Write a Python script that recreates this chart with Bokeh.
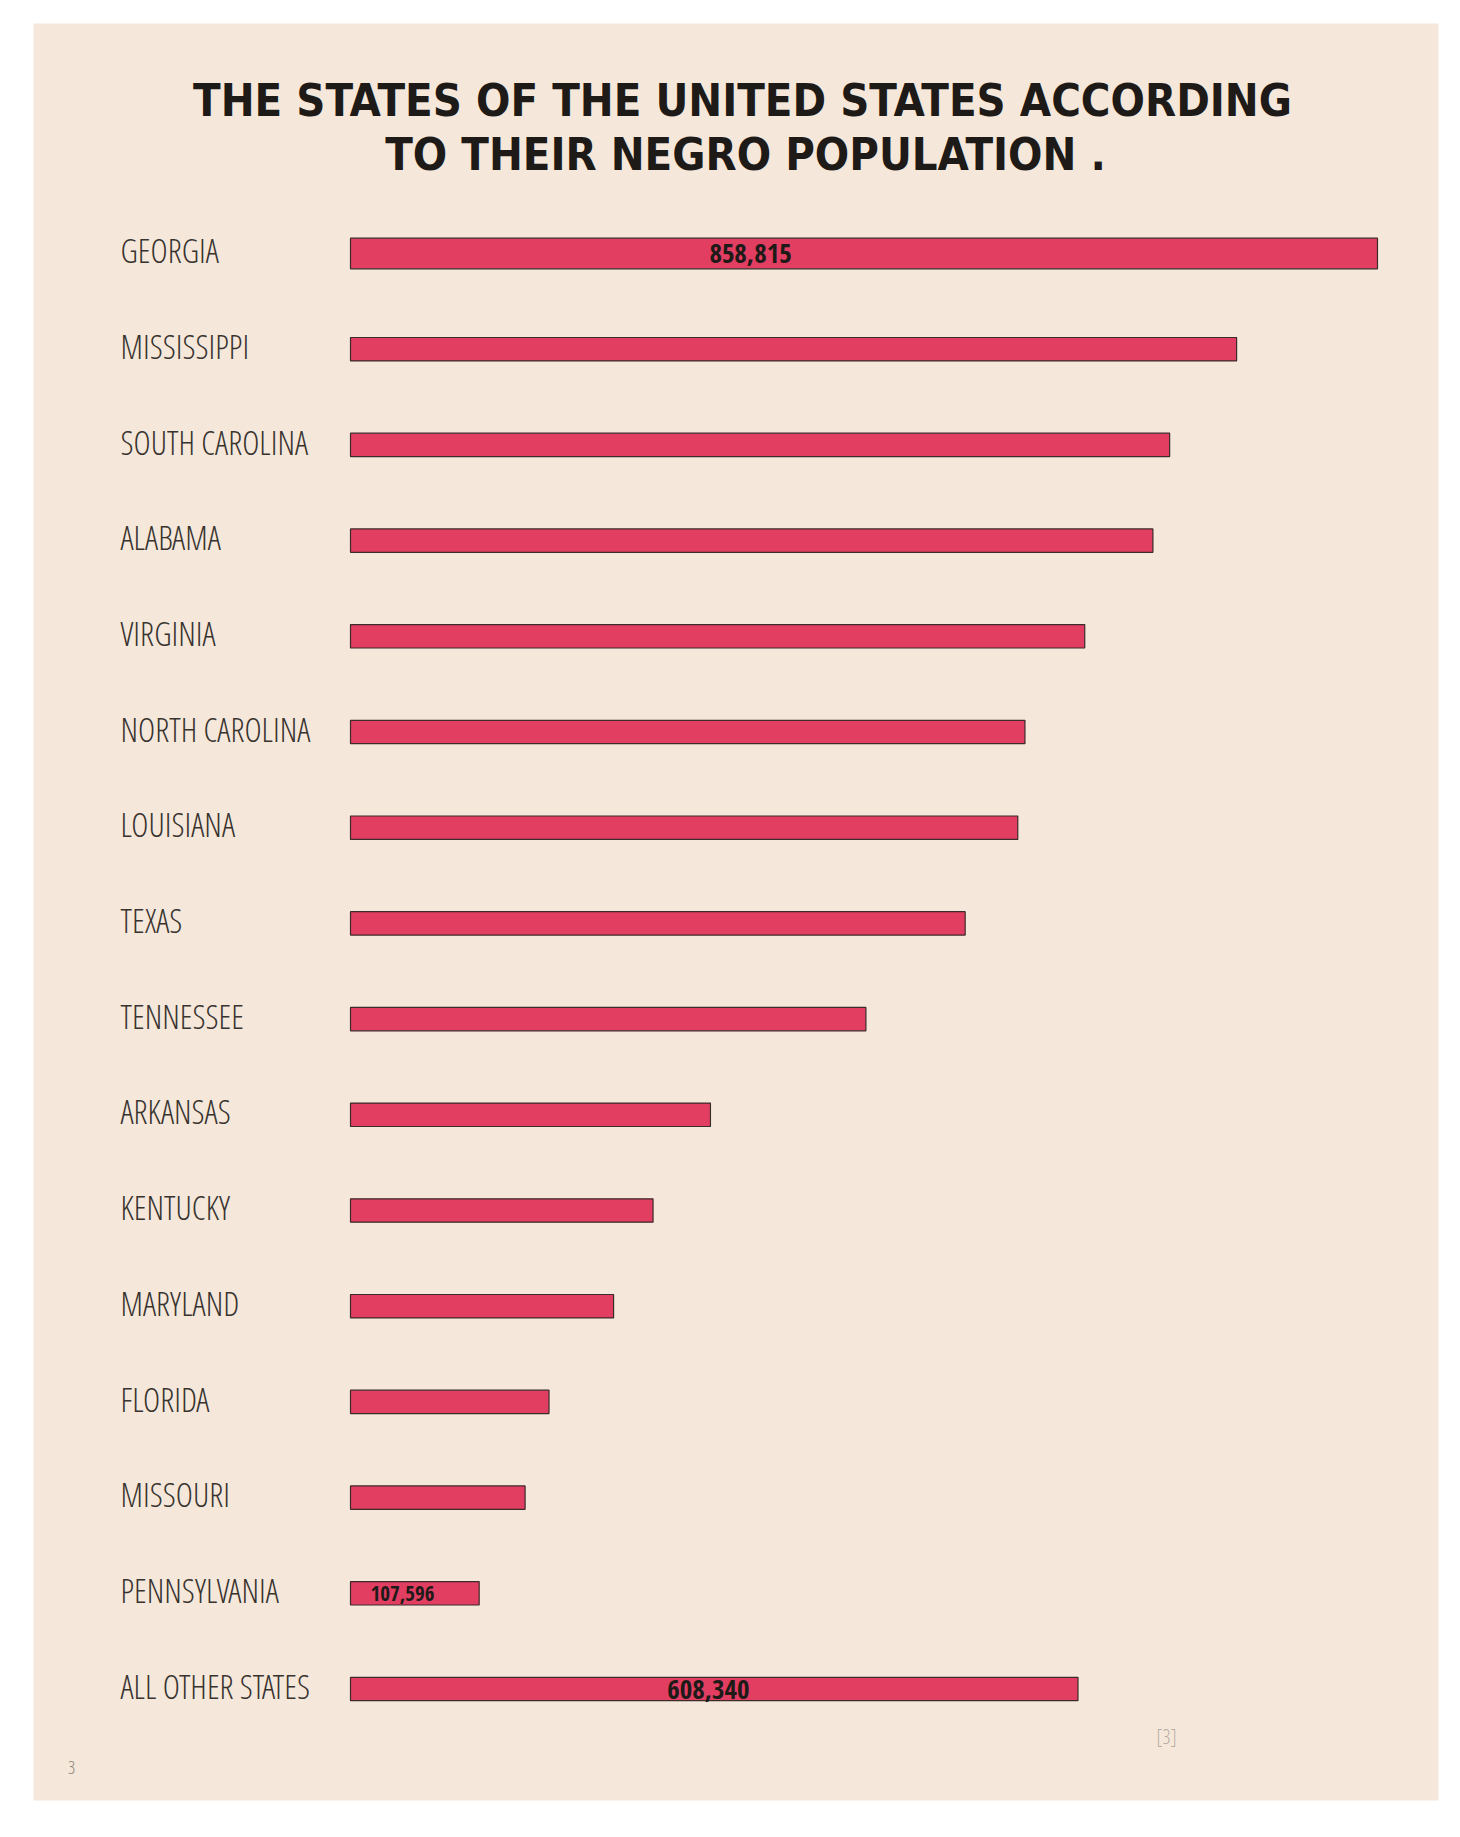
from bokeh.plotting import figure
from bokeh.models import ColumnDataSource, Range1d
from bokeh.core.properties import value
from bokeh.embed import file_html
from bokeh.resources import INLINE

# ---- data ----
states = ["GEORGIA", "MISSISSIPPI", "SOUTH CAROLINA", "ALABAMA", "VIRGINIA", "NORTH CAROLINA",
          "LOUISIANA", "TEXAS", "TENNESSEE", "ARKANSAS", "KENTUCKY", "MARYLAND", "FLORIDA",
          "MISSOURI", "PENNSYLVANIA", "ALL OTHER STATES"]
population = [858815, 741000, 685000, 671000, 614000, 564000, 558000, 514000, 431000,
              301000, 253000, 220000, 166000, 146000, 107596, 608340]
labelled = ["GEORGIA", "PENNSYLVANIA", "ALL OTHER STATES"]
title_lines = ["THE STATES OF THE UNITED STATES ACCORDING", "TO THEIR NEGRO POPULATION ."]

# ---- layout (pixel geometry of the sheet) ----
W, H = 1444, 1821
FL, FR, FT, FB = 33, 1438, 23, 1800          # paper edges in canvas px
BAR0_PX, BARMAX_PX = 350, 1377                # bar start / longest bar end
ROW0_PX, ROW_STEP = 253, 95.7                 # first row centre, row spacing
upx = max(population) / (BARMAX_PX - BAR0_PX)  # data units per px

def xd(px):
    return (px - BAR0_PX) * upx

def yd(px):
    return (px - ROW0_PX) / ROW_STEP

PAPER = "#f5e8db"
CRIMSON = "#e0355c"
INK = "#1e1a18"

p = figure(width=W, height=H, output_backend="svg", toolbar_location=None,
           x_range=Range1d(xd(FL), xd(FR)), y_range=Range1d(yd(FB), yd(FT)),
           x_axis_location=None, y_axis_location=None,
           min_border_left=FL, min_border_right=W - FR, min_border_top=FT, min_border_bottom=H - FB,
           background_fill_color=PAPER, border_fill_color="white", outline_line_color=None)
p.grid.visible = False

idx = list(range(len(states)))
heights = [0.32 if i == 0 else 0.245 for i in idx]
src = ColumnDataSource(dict(idx=idx, state=states, pop=population, h=heights,
                            ly=[i - 0.03 for i in idx]))

p.hbar(y="idx", left=0, right="pop", height="h", source=src,
       fill_color=CRIMSON, fill_alpha=0.95, line_color="#3b2b2b", line_width=1.2)

# state names
p.text(x=xd(120), y="ly", text="state", source=src,
       text_font=value("Open Sans Condensed Light"), text_font_size="33px",
       text_color="#38332f", text_baseline="middle", text_align="left")

# value labels on three bars
label_frac = {"GEORGIA": 0.3895, "PENNSYLVANIA": 0.404, "ALL OTHER STATES": 0.492}
label_size = {"GEORGIA": "27px", "PENNSYLVANIA": "21px", "ALL OTHER STATES": "27px"}
lx, ly, lt, ls = [], [], [], []
for s in labelled:
    i = states.index(s)
    lx.append(population[i] * label_frac[s])
    ly.append(i)
    lt.append(f"{population[i]:,}")
    ls.append(label_size[s])
lsrc = ColumnDataSource(dict(x=lx, y=ly, t=lt, fs=ls))
p.text(x="x", y="y", text="t", text_font_size="fs", source=lsrc,
       text_font=value("Open Sans Condensed"), text_font_style="bold",
       text_color=INK, text_baseline="middle", text_align="center")

# title
p.text(x=[xd(742), xd(745)], y=[yd(100), yd(154)], text=title_lines,
       text_font=value("DejaVu Sans Condensed"), text_font_style="bold", text_font_size="45px",
       text_color=INK, text_baseline="middle", text_align="center")

# small archive marks on the sheet
p.text(x=[xd(71)], y=[yd(1767)], text=["3"], text_font=value("Open Sans Condensed Light"),
       text_font_size="18px", text_color="#8a8178", text_baseline="middle", text_align="center")
p.text(x=[xd(1166)], y=[yd(1736)], text=["[3]"], text_font=value("Open Sans Condensed Light"),
       text_font_size="20px", text_color="#b5aca2", text_baseline="middle", text_align="center")

open("out.html", "w").write(file_html(p, INLINE))
